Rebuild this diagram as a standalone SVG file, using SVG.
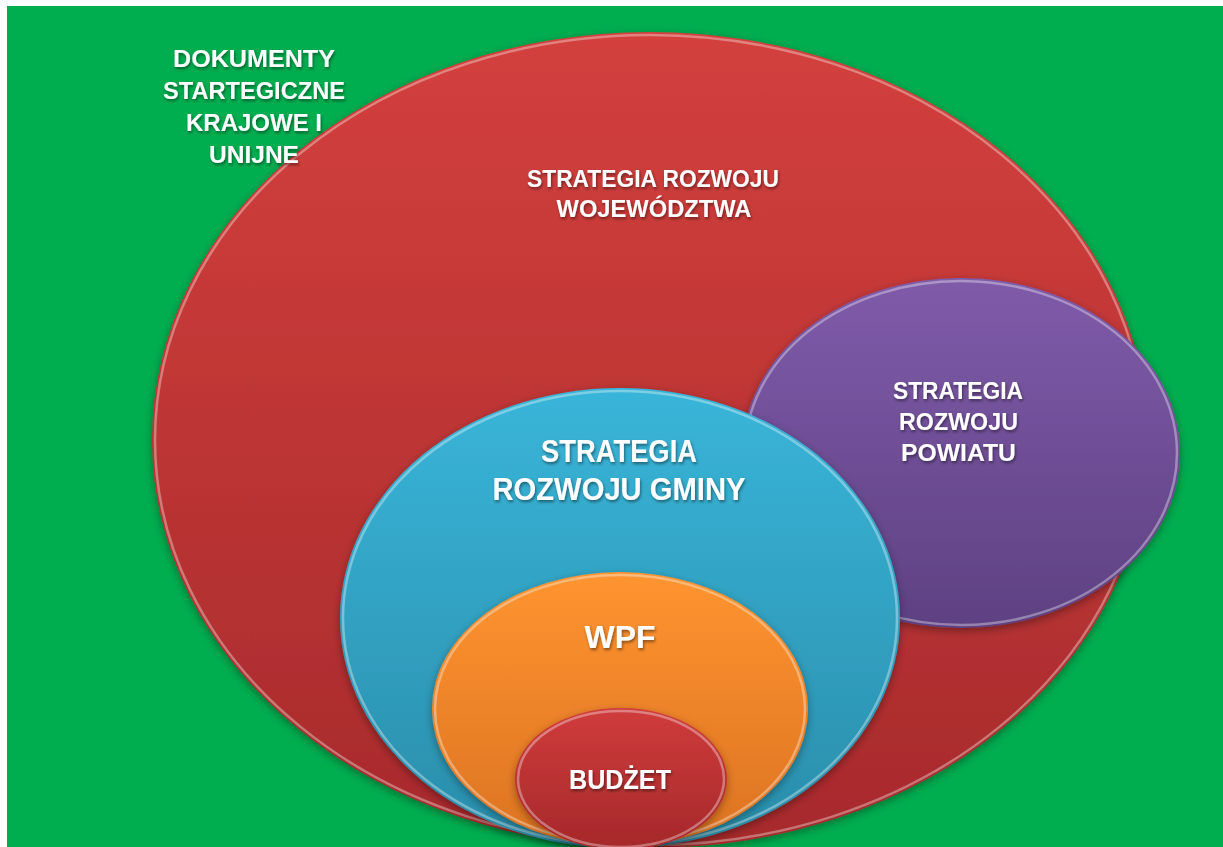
<svg xmlns="http://www.w3.org/2000/svg" width="1223" height="847" viewBox="0 0 1223 847">
<defs>
<linearGradient id="gRed" x1="0" y1="0" x2="0" y2="1"><stop offset="0" stop-color="#D3403D"/><stop offset="1" stop-color="#A72A2C"/></linearGradient>
<linearGradient id="gPur" x1="0" y1="0" x2="0" y2="1"><stop offset="0" stop-color="#7F5BAA"/><stop offset="1" stop-color="#5E4182"/></linearGradient>
<linearGradient id="gCy" x1="0" y1="0" x2="0" y2="1"><stop offset="0" stop-color="#39B5D9"/><stop offset="1" stop-color="#2A8DAA"/></linearGradient>
<linearGradient id="gOr" x1="0" y1="0" x2="0" y2="1"><stop offset="0" stop-color="#FF9430"/><stop offset="1" stop-color="#DC7322"/></linearGradient>
<linearGradient id="gBud" x1="0" y1="0" x2="0" y2="1"><stop offset="0" stop-color="#D03C3C"/><stop offset="1" stop-color="#A5282A"/></linearGradient>
<filter id="sh" x="-10%" y="-10%" width="120%" height="120%"><feDropShadow dx="0" dy="3" stdDeviation="4" flood-color="#000" flood-opacity="0.35"/></filter>
<filter id="tsh" x="-10%" y="-30%" width="120%" height="160%"><feDropShadow dx="1" dy="2" stdDeviation="1.5" flood-color="#000" flood-opacity="0.45"/></filter>
</defs>
<style>
.t{font-family:"Liberation Sans",Arial,sans-serif;font-weight:bold;fill:#fff;text-anchor:middle;filter:url(#tsh)}
.rim{fill:none;stroke:#fff;stroke-opacity:0.35;stroke-width:2.5}
</style>
<rect x="7" y="6" width="1216" height="841" fill="#00AD4F"/>
<g id="wojewodztwo">
<ellipse cx="650" cy="440" rx="498" ry="408" fill="url(#gRed)" filter="url(#sh)"/>
<ellipse class="rim" cx="650" cy="440" rx="495" ry="405"/>
<text class="t" font-size="23" x="653" y="187" textLength="252" lengthAdjust="spacingAndGlyphs">STRATEGIA ROZWOJU</text>
<text class="t" font-size="23" x="654" y="217" textLength="195" lengthAdjust="spacingAndGlyphs">WOJEWÓDZTWA</text>
</g>
<g id="powiat">
<ellipse cx="961" cy="453" rx="219" ry="175" fill="url(#gPur)" filter="url(#sh)"/>
<ellipse class="rim" cx="961" cy="453" rx="216" ry="172"/>
<text class="t" font-size="24" x="958" y="399" textLength="130" lengthAdjust="spacingAndGlyphs">STRATEGIA</text>
<text class="t" font-size="24" x="958.5" y="430" textLength="119" lengthAdjust="spacingAndGlyphs">ROZWOJU</text>
<text class="t" font-size="24" x="958.5" y="461" textLength="115" lengthAdjust="spacingAndGlyphs">POWIATU</text>
</g>
<g id="gmina">
<ellipse cx="620" cy="618" rx="280" ry="230" fill="url(#gCy)" filter="url(#sh)"/>
<ellipse class="rim" cx="620" cy="618" rx="277" ry="227"/>
<text class="t" font-size="31" x="619" y="462" textLength="156" lengthAdjust="spacingAndGlyphs">STRATEGIA</text>
<text class="t" font-size="31" x="619" y="500" textLength="253" lengthAdjust="spacingAndGlyphs">ROZWOJU GMINY</text>
</g>
<g id="wpf">
<ellipse cx="620" cy="709" rx="188" ry="137" fill="url(#gOr)" filter="url(#sh)"/>
<ellipse class="rim" cx="620" cy="709" rx="185" ry="134"/>
<text class="t" font-size="32" x="620" y="648" textLength="71" lengthAdjust="spacingAndGlyphs">WPF</text>
</g>
<g id="budzet">
<ellipse cx="621" cy="779" rx="106" ry="71" fill="url(#gBud)" filter="url(#sh)"/>
<ellipse class="rim" cx="621" cy="779" rx="103" ry="68"/>
<text class="t" font-size="28" x="620" y="789" textLength="102" lengthAdjust="spacingAndGlyphs">BUDŻET</text>
</g>
<g id="dokumenty">
<text class="t" font-size="24" x="254" y="67" textLength="162" lengthAdjust="spacingAndGlyphs">DOKUMENTY</text>
<text class="t" font-size="24" x="254" y="99" textLength="182" lengthAdjust="spacingAndGlyphs">STARTEGICZNE</text>
<text class="t" font-size="24" x="254" y="131" textLength="136" lengthAdjust="spacingAndGlyphs">KRAJOWE I</text>
<text class="t" font-size="24" x="254" y="163" textLength="90" lengthAdjust="spacingAndGlyphs">UNIJNE</text>
</g>
<g id="connectors"/>
</svg>
